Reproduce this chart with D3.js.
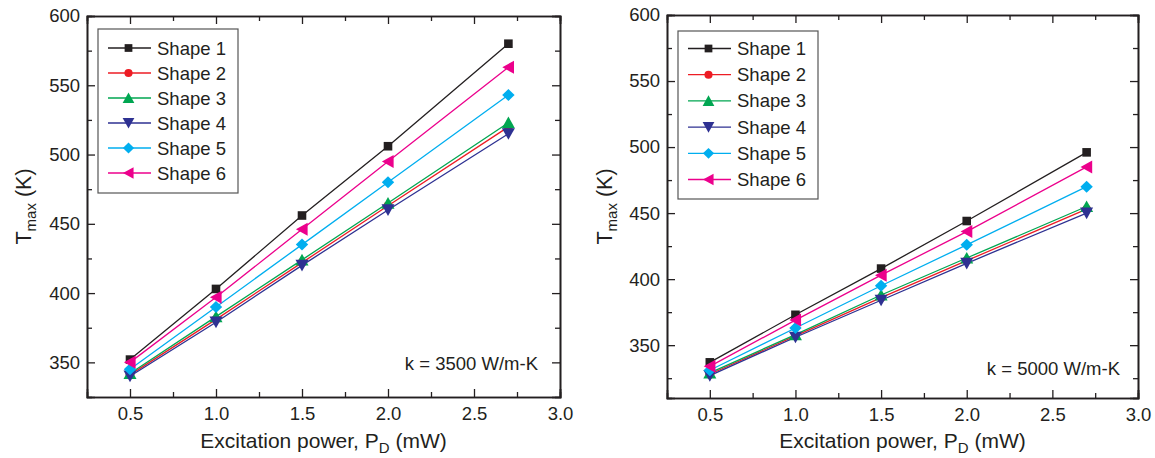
<!DOCTYPE html>
<html><head><meta charset="utf-8">
<script src="https://cdn.jsdelivr.net/npm/d3@7"></script>
<style>
body{margin:0;background:#fff;}
text{font-family:"Liberation Sans",Arial,Helvetica,sans-serif;fill:#231f20;}
</style></head>
<body>
<svg id="c" width="1155" height="458"></svg>
<script>
// ---------- data ----------
const xVals = [0.5, 1.0, 1.5, 2.0, 2.7];
const seriesNames = ["Shape 1","Shape 2","Shape 3","Shape 4","Shape 5","Shape 6"];
const seriesColors = ["#231f20","#ed1c24","#00a651","#2e3192","#00aeef","#ec008c"];
const seriesSymbols = ["square","circle","triangleUp","triangleDown","diamond","triangleLeft"];
// k = 3500 W/m-K
const left1 = [352, 403, 456, 506, 580];
const left2 = [341, 381, 422, 463, 520];
const left3 = [342, 383, 424, 465, 523];
const left4 = [340, 379, 420, 460, 515];
const left5 = [345, 390, 435, 480, 543];
const left6 = [350, 397, 446, 495, 563];
// k = 5000 W/m-K
const right1 = [337, 373, 408, 444, 496];
const right2 = [328, 357, 386, 414, 453];
const right3 = [329, 358, 388, 416, 455];
const right4 = [327, 356, 384, 412, 450];
const right5 = [331, 363, 395, 426, 470];
const right6 = [334, 369, 403, 436, 485];
const xTicks = [0.5, 1.0, 1.5, 2.0, 2.5, 3.0];
const xMinorTicks = [0.75, 1.25, 1.75, 2.25, 2.75];
const yTicks = [350, 400, 450, 500, 550, 600];
const yMinorTicks = [325, 375, 425, 475, 525, 575];
const annotations = ["k = 3500 W/m-K", "k = 5000 W/m-K"];

const panels = [
  {series:[left1,left2,left3,left4,left5,left6], x0:87, x1:560, y0:16, y1:397, yDom:[325,600], note:annotations[0], noteX:538, noteY:370, ylabX:31, legend:{x:98,y:29,w:140,h:164,row:25,first:19}},
  {series:[right1,right2,right3,right4,right5,right6], x0:667, x1:1138, y0:15, y1:398, yDom:[310,600], note:annotations[1], noteX:1120, noteY:375, ylabX:612, legend:{x:678,y:31,w:140,h:168,row:26.2,first:17.5}}
];

const svg = d3.select("#c");
function markerPath(type, s){
  // s: scale factor
  if(type==="square"){const h=4.3*s;return `M${-h},${-h}H${h}V${h}H${-h}Z`;}
  if(type==="circle"){return d3.symbol(d3.symbolCircle, 64*s*s)();}
  if(type==="diamond"){const w=6.2*s,h=6*s;return `M0,${-h}L${w},0L0,${h}L${-w},0Z`;}
  const a=6.5*s, b=5.6*s; // half base, half height
  if(type==="triangleUp") return `M0,${-b-0.5}L${a},${b}L${-a},${b}Z`;
  if(type==="triangleDown") return `M0,${b+0.5}L${a},${-b}L${-a},${-b}Z`;
  if(type==="triangleLeft") return `M${-b-0.5},0L${b},${-a}L${b},${a}Z`;
}
function marker(g, type, s, color){
  g.append("path").attr("d", markerPath(type,s)).attr("fill", color);
}

panels.forEach(p=>{
  const x = d3.scaleLinear().domain([0.25,3.0]).range([p.x0,p.x1]);
  const y = d3.scaleLinear().domain(p.yDom).range([p.y1,p.y0]);
  const g = svg.append("g");
  const yMin = yMinorTicks.filter(v=>v>p.yDom[0]);

  g.append("g").attr("transform",`translate(0,${p.y1})`)
    .call(d3.axisBottom(x).tickValues(xTicks).tickSize(-8).tickPadding(10).tickFormat(d3.format(".1f")));
  g.append("g").attr("transform",`translate(0,${p.y1})`)
    .call(d3.axisBottom(x).tickValues(xMinorTicks).tickSize(-5).tickFormat(""));
  g.append("g").attr("transform",`translate(0,${p.y0})`)
    .call(d3.axisTop(x).tickValues(xTicks).tickSize(-8).tickFormat(""));
  g.append("g").attr("transform",`translate(0,${p.y0})`)
    .call(d3.axisTop(x).tickValues(xMinorTicks).tickSize(-5).tickFormat(""));
  g.append("g").attr("transform",`translate(${p.x0},0)`)
    .call(d3.axisLeft(y).tickValues(yTicks).tickSize(-8).tickPadding(7).tickFormat(d3.format("d")));
  g.append("g").attr("transform",`translate(${p.x0},0)`)
    .call(d3.axisLeft(y).tickValues(yMin).tickSize(-5).tickFormat(""));
  g.append("g").attr("transform",`translate(${p.x1},0)`)
    .call(d3.axisRight(y).tickValues(yTicks).tickSize(-8).tickFormat(""));
  g.append("g").attr("transform",`translate(${p.x1},0)`)
    .call(d3.axisRight(y).tickValues(yMin).tickSize(-5).tickFormat(""));
  g.selectAll(".domain").attr("stroke","#231f20").attr("stroke-width",1.6);
  g.selectAll(".tick line").attr("stroke","#231f20").attr("stroke-width",1.3);
  g.selectAll(".tick text").attr("font-size",18.5).attr("fill","#231f20")
    .attr("font-family","Liberation Sans, Arial, sans-serif");

  const line = d3.line().x((d,i)=>x(xVals[i])).y(d=>y(d));
  p.series.forEach((s,k)=>{
    g.append("path").datum(s).attr("d",line).attr("fill","none")
      .attr("stroke",seriesColors[k]).attr("stroke-width",1.3);
  });
  p.series.forEach((s,k)=>{
    s.forEach((v,i)=>{
      const m = g.append("g").attr("transform",`translate(${x(xVals[i])},${y(v)})`);
      marker(m, seriesSymbols[k], 1.0, seriesColors[k]);
    });
  });

  const L = p.legend;
  const lg = g.append("g");
  lg.append("rect").attr("x",L.x).attr("y",L.y).attr("width",L.w).attr("height",L.h)
    .attr("fill","#fff").attr("stroke","#555").attr("stroke-width",1.2);
  seriesNames.forEach((n,k)=>{
    const cy = L.y + L.first + k*L.row;
    lg.append("line").attr("x1",L.x+10).attr("x2",L.x+53).attr("y1",cy).attr("y2",cy)
      .attr("stroke",seriesColors[k]).attr("stroke-width",1.3);
    const m = lg.append("g").attr("transform",`translate(${L.x+30.5},${cy})`);
    marker(m, seriesSymbols[k], 0.9, seriesColors[k]);
    lg.append("text").attr("x",L.x+59).attr("y",cy+6.5).attr("font-size",18.5).text(n);
  });

  g.append("text").attr("x",p.noteX).attr("y",p.noteY).attr("text-anchor","end")
    .attr("font-size",18.5).text(p.note);

  const xl = g.append("text").attr("x",(p.x0+p.x1)/2).attr("y",448)
    .attr("text-anchor","middle").attr("font-size",21);
  xl.append("tspan").text("Excitation power, P");
  xl.append("tspan").attr("font-size",15).attr("dy",5).text("D");
  xl.append("tspan").attr("dy",-5).text(" (mW)");

  const yl = g.append("text").attr("transform",`translate(${p.ylabX},${(p.y0+p.y1)/2}) rotate(-90)`)
    .attr("text-anchor","middle").attr("font-size",21.5);
  yl.append("tspan").text("T");
  yl.append("tspan").attr("font-size",15).attr("dy",5).text("max");
  yl.append("tspan").attr("dy",-5).text(" (K)");
});
</script>
</body></html>
